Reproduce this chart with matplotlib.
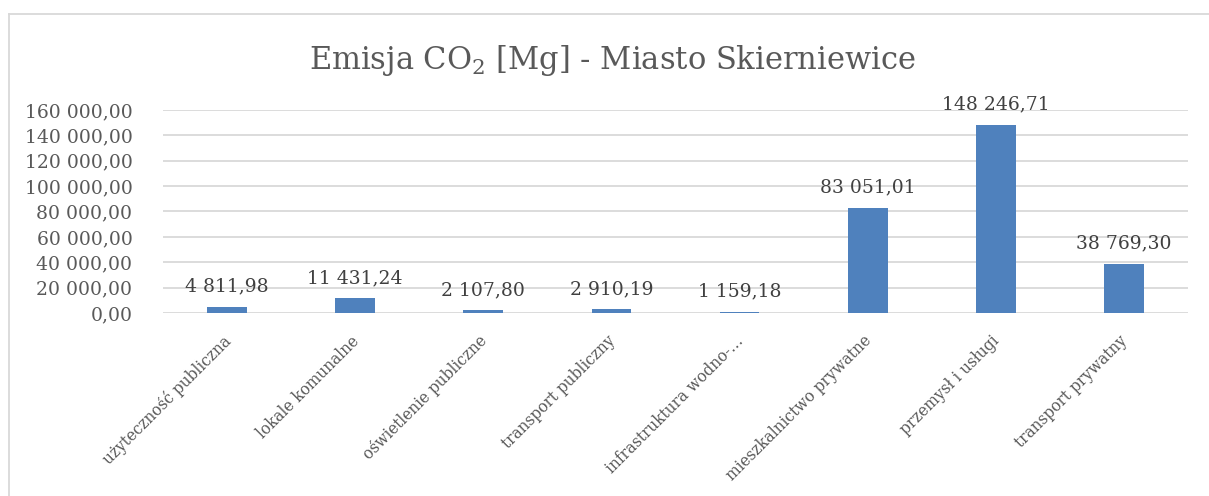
import matplotlib
matplotlib.use("Agg")
import matplotlib.pyplot as plt
from matplotlib.lines import Line2D
from matplotlib.ticker import FuncFormatter
from matplotlib.transforms import ScaledTranslation

categories = [
    "użyteczność publiczna",
    "lokale komunalne",
    "oświetlenie publiczne",
    "transport publiczny",
    "infrastruktura wodno-…",
    "mieszkalnictwo prywatne",
    "przemysł i usługi",
    "transport prywatny",
]
emissions = [4811.98, 11431.24, 2107.80, 2910.19, 1159.18, 83051.01, 148246.71, 38769.30]
y_ticks = [0, 20000, 40000, 60000, 80000, 100000, 120000, 140000, 160000]

FONT = "DejaVu Serif"
BAR = "#4f81bd"
GRID = "#d9d9d9"
TXT = "#595959"
LBL = "#404040"


def pl_number(v):
    s = f"{v:,.2f}"
    return s.replace(",", " ").replace(".", ",")


W, H = 1209, 496
fig = plt.figure(figsize=(W / 100, H / 100), dpi=100)
plt.rcParams["mathtext.fontset"] = "custom"
plt.rcParams["mathtext.rm"] = FONT

# chart border: left and top edges
bx, by = 8.5 / W, 1 - 13.5 / H
fig.add_artist(Line2D([bx, bx], [0, by], transform=fig.transFigure, color=GRID, lw=1.3))
fig.add_artist(Line2D([bx, 1], [by, by], transform=fig.transFigure, color=GRID, lw=1.3))

ax = fig.add_axes([163 / W, 1 - 313 / H, (1188 - 163) / W, (313 - 110) / H])
x = range(len(categories))
ax.bar(x, emissions, width=0.31, color=BAR, zorder=3)
ax.set_xlim(-0.5, len(categories) - 0.5)
ax.set_ylim(0, 160000)
ax.set_yticks(y_ticks)
ax.yaxis.set_major_formatter(FuncFormatter(lambda v, p: pl_number(v)))
ax.grid(axis="y", color=GRID, linewidth=1.3, zorder=0)
for s in ax.spines.values():
    s.set_visible(False)
ax.tick_params(axis="both", length=0)
ax.tick_params(axis="y", pad=22, labelsize=13.5, labelcolor=TXT)
for t in ax.get_yticklabels():
    t.set_fontfamily(FONT)

ax.set_xticks(list(x))
ax.set_xticklabels(categories, rotation=45, ha="right", rotation_mode="anchor",
                   fontsize=12.3, color=TXT, fontfamily=FONT, fontstretch="condensed")
ax.tick_params(axis="x", pad=14)
shift = ScaledTranslation(-5 / 100, 0, fig.dpi_scale_trans)
for t in ax.get_xticklabels():
    t.set_transform(t.get_transform() + shift)

for xi, v in zip(x, emissions):
    ax.annotate(pl_number(v), (xi, v), xytext=(0, 8), textcoords="offset points",
                ha="center", va="bottom", fontsize=13.5, color=LBL, fontfamily=FONT)

fig.text(612 / W, 1 - 60 / H, r"Emisja CO$_{2}$ [Mg] - Miasto Skierniewice",
         ha="center", va="center", fontsize=22, color=TXT, fontfamily=FONT)

fig.savefig("out.png", dpi=100)
